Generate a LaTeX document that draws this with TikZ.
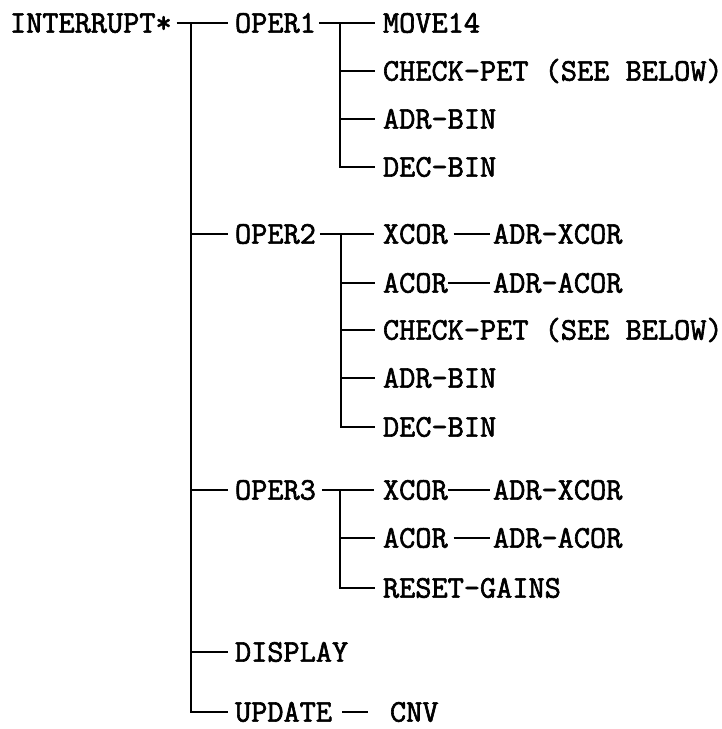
\documentclass[tikz,border=0pt]{standalone}
\usepackage{fontspec}
\newfontfamily\typewriter{Latin Modern Mono}[FakeBold=2]
\begin{document}
\begin{tikzpicture}[x=1pt,y=-1pt,
  lbl/.style={anchor=west,inner xsep=0pt,inner ysep=0pt,outer sep=0pt,
    text height=19.2pt,text depth=0pt,
    font=\typewriter\fontsize{31.4}{36}\selectfont},
  wire/.style={line width=2pt,line cap=butt}]
\useasboundingbox (0,0) rectangle (722,729);

% labels
\node[lbl] (int)  at (10,23)   {INTERRUPT*};
\node[lbl] (o1)   at (235,23)  {OPER1};
\node[lbl] (mv)   at (383,23)  {MOVE14};
\node[lbl] (cp1)  at (383,71)  {CHECK-PET (SEE BELOW)};
\node[lbl] (ab1)  at (383,119) {ADR-BIN};
\node[lbl] (db1)  at (383,167) {DEC-BIN};

\node[lbl] (o2)   at (235,234) {OPER2};
\node[lbl] (xc2)  at (383,234) {XCOR};
\node[lbl] (axc2) at (493,234) {ADR-XCOR};
\node[lbl] (ac2)  at (383,283) {ACOR};
\node[lbl] (aac2) at (493,283) {ADR-ACOR};
\node[lbl] (cp2)  at (383,330) {CHECK-PET (SEE BELOW)};
\node[lbl] (ab2)  at (383,378) {ADR-BIN};
\node[lbl] (db2)  at (383,427) {DEC-BIN};

\node[lbl] (o3)   at (235,490) {OPER3};
\node[lbl] (xc3)  at (383,490) {XCOR};
\node[lbl] (axc3) at (493,490) {ADR-XCOR};
\node[lbl] (ac3)  at (383,538) {ACOR};
\node[lbl] (aac3) at (493,538) {ADR-ACOR};
\node[lbl] (rg)   at (383,588) {RESET-GAINS};

\node[lbl] (dsp)  at (235,652) {DISPLAY};
\node[lbl] (upd)  at (235,712) {UPDATE};
\node[lbl] (cnv)  at (390,712) {CNV};

% junction points of the trunk and the three sub-trees
\coordinate (trunk) at (191,23);
\coordinate (s1) at (340,23);
\coordinate (s2) at (341,234);
\coordinate (s3) at (340,490);

% main trunk
\draw[wire] ([xshift=5pt]int.east) -- ([xshift=-7pt]o1.west);
\draw[wire] (trunk) -- (trunk |- upd.west) -- ([xshift=-7pt]upd.west);
\foreach \n in {o2,o3,dsp}
  \draw[wire] (trunk |- \n.west) -- ([xshift=-7pt]\n.west);

% OPER1 sub-tree
\draw[wire] ([xshift=3pt]o1.east) -- ([xshift=-8pt]mv.west);
\draw[wire] (s1) -- (s1 |- db1.west) -- ([xshift=-8pt]db1.west);
\foreach \n in {cp1,ab1}
  \draw[wire] (s1 |- \n.west) -- ([xshift=-8pt]\n.west);

% OPER2 sub-tree
\draw[wire] ([xshift=4pt]o2.east) -- ([xshift=-9pt]xc2.west);
\draw[wire] (s2) -- (s2 |- db2.west) -- ([xshift=-8pt]db2.west);
\foreach \n in {ac2,cp2,ab2}
  \draw[wire] (s2 |- \n.west) -- ([xshift=-8pt]\n.west);
\draw[wire] ([xshift=6pt]xc2.east) -- ([xshift=-3pt]axc2.west);
\draw[wire] (ac2.east) -- ([xshift=-3pt]aac2.west);

% OPER3 sub-tree
\draw[wire] ([xshift=6pt]o3.east) -- ([xshift=-9pt]xc3.west);
\draw[wire] (s3) -- (s3 |- rg.west) -- ([xshift=-8pt]rg.west);
\draw[wire] (s3 |- ac3.west) -- ([xshift=-8pt]ac3.west);
\draw[wire] (xc3.east) -- ([xshift=-3pt]axc3.west);
\draw[wire] ([xshift=6pt]ac3.east) -- ([xshift=-3pt]aac3.west);

% UPDATE leaf
\draw[wire] ([xshift=10pt]upd.east) -- ([xshift=-22pt]cnv.west);
\end{tikzpicture}
\end{document}
